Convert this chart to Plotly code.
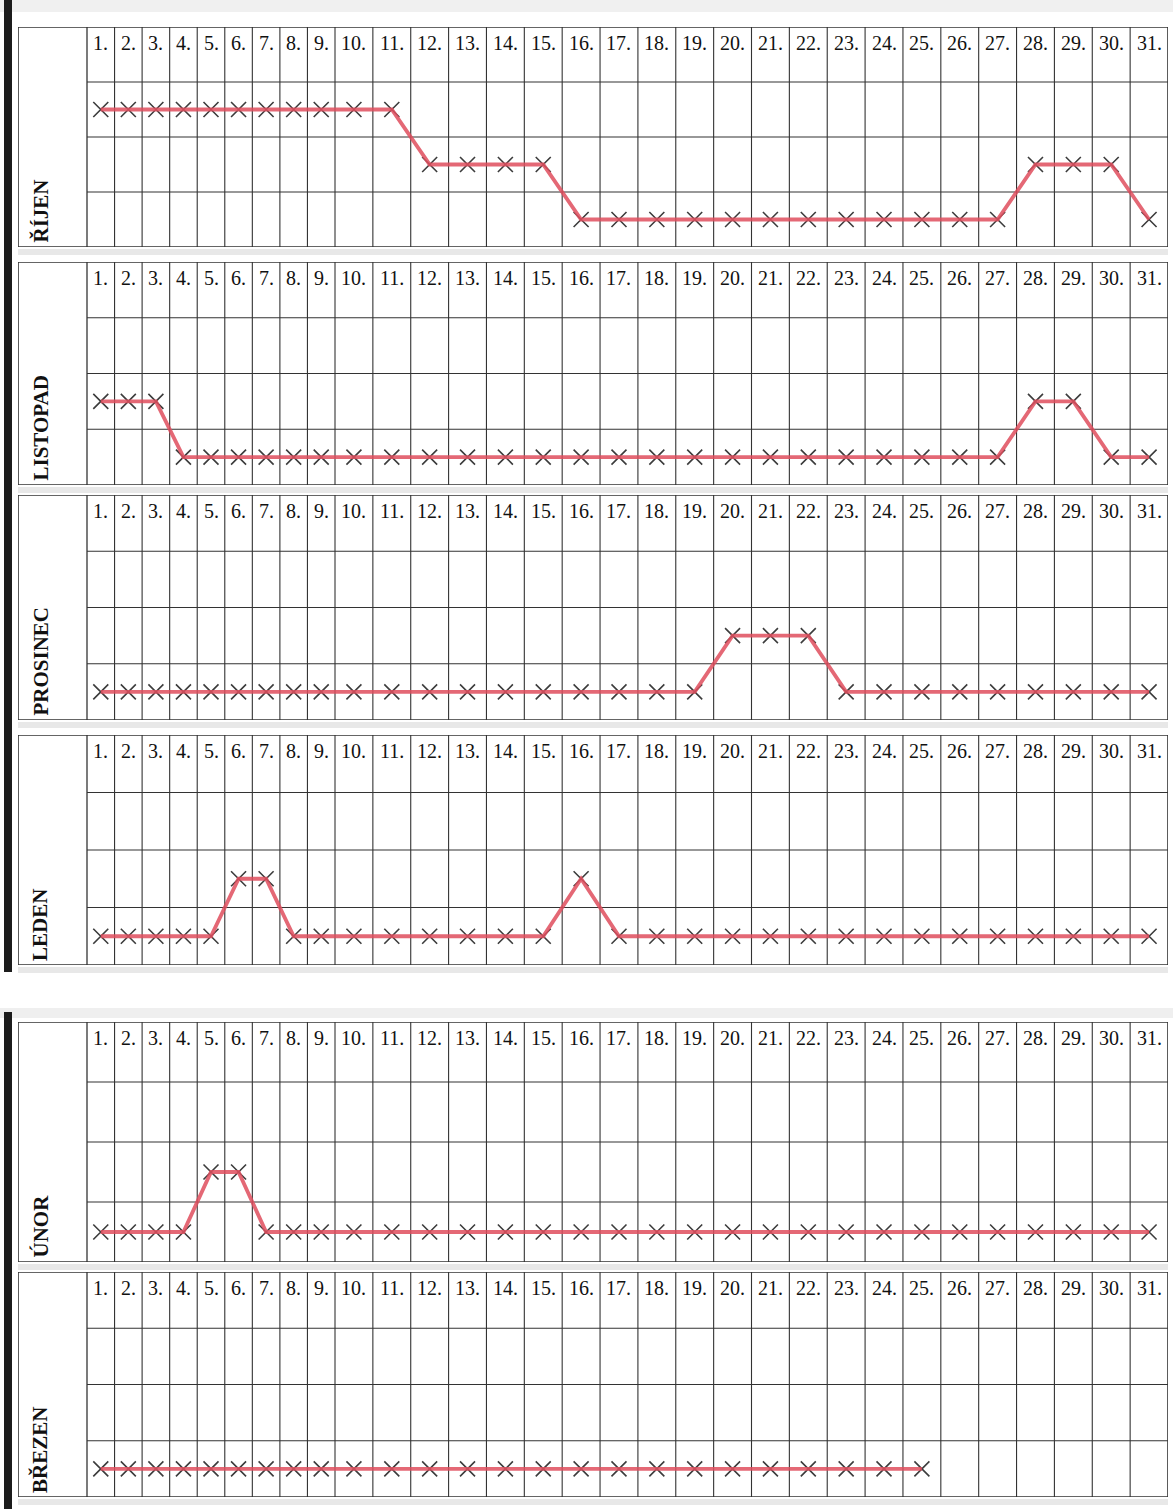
import plotly.graph_objects as go

# ---------------- data ----------------
days = list(range(1, 32))
day_labels = [f"{d}." for d in days]
months = ["ŘÍJEN", "LISTOPAD", "PROSINEC", "LEDEN", "ÚNOR", "BŘEZEN"]

rijen = [3, 3, 3, 3, 3, 3, 3, 3, 3, 3, 3,
         2, 2, 2, 2,
         1, 1, 1, 1, 1, 1, 1, 1, 1, 1, 1, 1,
         2, 2, 2,
         1]
listopad = [2, 2, 2,
            1, 1, 1, 1, 1, 1, 1, 1, 1, 1, 1, 1, 1, 1, 1, 1, 1, 1, 1, 1, 1, 1, 1, 1,
            2, 2,
            1, 1]
prosinec = [1, 1, 1, 1, 1, 1, 1, 1, 1, 1, 1, 1, 1, 1, 1, 1, 1, 1, 1,
            2, 2, 2,
            1, 1, 1, 1, 1, 1, 1, 1, 1]
leden = [1, 1, 1, 1, 1,
         2, 2,
         1, 1, 1, 1, 1, 1, 1, 1,
         2,
         1, 1, 1, 1, 1, 1, 1, 1, 1, 1, 1, 1, 1, 1, 1]
unor = [1, 1, 1, 1,
        2, 2,
        1, 1, 1, 1, 1, 1, 1, 1, 1, 1, 1, 1, 1, 1, 1, 1, 1, 1, 1, 1, 1, 1, 1, 1, 1]
brezen = [1, 1, 1, 1, 1, 1, 1, 1, 1, 1, 1, 1, 1, 1, 1, 1, 1, 1, 1, 1, 1, 1, 1, 1, 1,
          None, None, None, None, None, None]
series = [rijen, listopad, prosinec, leden, unor, brezen]

# ---------------- geometry ----------------
W, H = 1173, 1509
panels_px = [(27, 247), (262, 485), (495, 720), (735, 965), (1022, 1262), (1272, 1497)]
X_LEFT, X_LABEL, X_SPLIT, X_RIGHT = 18, 87, 335, 1168


def col_edge(i):
    if i <= 9:
        return X_LABEL + i * (X_SPLIT - X_LABEL) / 9
    return X_SPLIT + (i - 9) * (X_RIGHT - X_SPLIT) / 22


centers = [(col_edge(i) + col_edge(i + 1)) / 2 for i in range(31)]

GRID = "#333333"
RED = "#e04e5e"
XCOL = "#3c3c3c"
SERIF = "Liberation Serif, Times New Roman, serif"

fig = go.Figure()
shapes = []
annotations = []
layout = dict(
    width=W, height=H, margin=dict(l=0, r=0, t=0, b=0),
    paper_bgcolor="white", plot_bgcolor="rgba(0,0,0,0)", showlegend=False,
)


def px_rect(x0, y0, x1, y1, color, layer="below"):
    shapes.append(dict(type="rect", xref="paper", yref="paper",
                       x0=x0 / W, x1=x1 / W, y0=1 - y1 / H, y1=1 - y0 / H,
                       fillcolor=color, line=dict(width=0), layer=layer))


# scan shading / page edges
px_rect(0, 0, W, 12, "#f0f0f0")
for (top, bot) in panels_px:
    px_rect(X_LEFT, bot + 2, X_RIGHT, bot + 8, "#e8e8e8")
px_rect(0, 1008, W, 1018, "#efefef")
px_rect(4, 0, 12, 972, "#1c1c1c", layer="above")
px_rect(4, 1012, 12, H, "#1c1c1c", layer="above")

for k, (month, vals, (top, bot)) in enumerate(zip(months, series, panels_px)):
    n = "" if k == 0 else str(k + 1)
    xa, ya = "x" + n, "y" + n
    layout["xaxis" + n] = dict(domain=[X_LEFT / W, X_RIGHT / W], range=[X_LEFT, X_RIGHT],
                               visible=False, fixedrange=True)
    layout["yaxis" + n] = dict(domain=[1 - bot / H, 1 - top / H], range=[0.5, 4.5],
                               visible=False, fixedrange=True)

    # outer frame and label column
    shapes.append(dict(type="rect", xref=xa, yref=ya, x0=X_LEFT, x1=X_RIGHT, y0=0.5, y1=4.5,
                       line=dict(color=GRID, width=1.6), layer="below"))
    shapes.append(dict(type="line", xref=xa, yref=ya, x0=X_LABEL, x1=X_LABEL, y0=0.5, y1=4.5,
                       line=dict(color=GRID, width=1.3), layer="below"))
    for i in range(1, 31):
        xe = col_edge(i)
        shapes.append(dict(type="line", xref=xa, yref=ya, x0=xe, x1=xe, y0=0.5, y1=4.5,
                           line=dict(color=GRID, width=1.1), layer="below"))
    for yb in (1.5, 2.5, 3.5):
        shapes.append(dict(type="line", xref=xa, yref=ya, x0=X_LABEL, x1=X_RIGHT, y0=yb, y1=yb,
                           line=dict(color=GRID, width=1.1), layer="below"))

    # day numbers
    for c, lab in zip(centers, day_labels):
        annotations.append(dict(xref=xa, yref=ya, x=c, y=4.5, yshift=-3, text=lab,
                                showarrow=False, xanchor="center", yanchor="top",
                                font=dict(family=SERIF, size=20, color="#111")))
    # month label
    annotations.append(dict(xref=xa, yref=ya, x=40, y=0.5, yshift=2, text="<b>" + month + "</b>",
                            textangle=-90, showarrow=False, xanchor="center", yanchor="bottom",
                            font=dict(family=SERIF, size=21, color="#111")))

    xs = [c for c, v in zip(centers, vals) if v is not None]
    ys = [v for v in vals if v is not None]
    fig.add_trace(go.Scatter(x=xs, y=ys, mode="markers", xaxis=xa, yaxis=ya,
                             marker=dict(symbol="x-thin", size=15,
                                         line=dict(width=1.6, color=XCOL)),
                             hoverinfo="skip"))
    fig.add_trace(go.Scatter(x=xs, y=ys, mode="lines", xaxis=xa, yaxis=ya,
                             line=dict(color=RED, width=3.8), opacity=0.85,
                             hoverinfo="skip"))

layout["shapes"] = shapes
layout["annotations"] = annotations
fig.update_layout(**layout)
fig.write_html("out.html", config={"displayModeBar": False},
               post_script="document.body.style.margin='0';document.body.style.padding='0';"
                           "window.dispatchEvent(new Event('resize'));")
